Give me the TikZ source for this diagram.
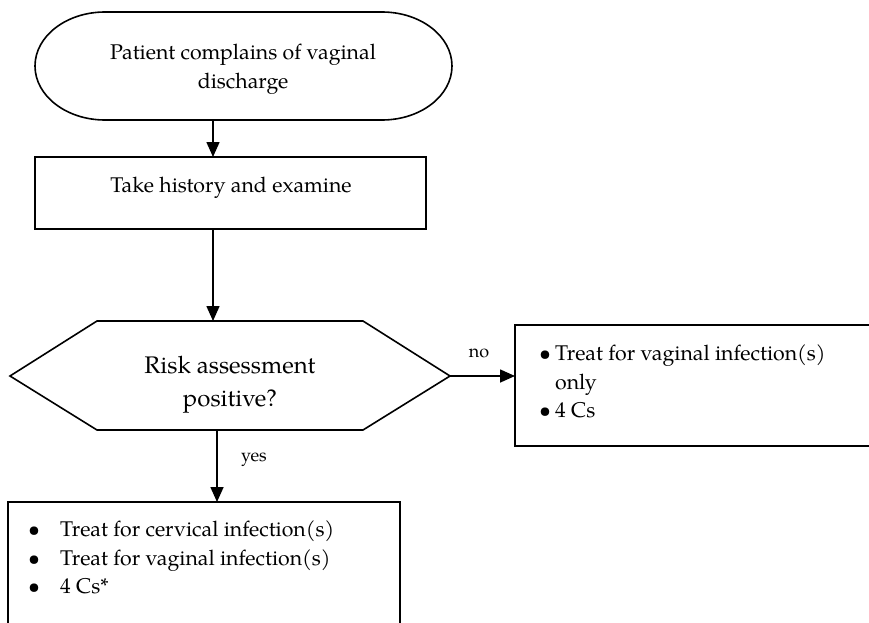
\documentclass[tikz,border=0pt]{standalone}
\usepackage{fontspec}
\setmainfont{TeX Gyre Pagella}
\usetikzlibrary{arrows.meta}
\begin{document}
\begin{tikzpicture}[x=1pt,y=1pt,
  outline/.style={draw=black,line width=1.6pt},
  flow/.style={draw=black,line width=1.6pt,-{Triangle[length=15pt,width=13pt]}},
  txt/.style={font=\fontsize{21.3}{29}\selectfont,inner sep=0pt},
  bigtxt/.style={font=\fontsize{24}{33}\selectfont,inner sep=0pt,align=center},
  lbl/.style={font=\fontsize{18}{20}\selectfont,inner sep=0pt}]
\useasboundingbox (0,0) rectangle (869,-623);
\begin{scope}
\clip (0,0) rectangle (869,-623);

% start terminal
\draw[outline] (105,-12) -- (382,-12)
  arc[start angle=90,end angle=-90,x radius=70,y radius=54]
  -- (105,-120)
  arc[start angle=270,end angle=90,x radius=70,y radius=54] -- cycle;
\node[txt,align=center] (start) at (243,-69) {Patient complains of vaginal\\discharge};
\coordinate (startout) at (213,-120);

% history box
\draw[outline] (35,-157) rectangle (426,-229);
\node[txt,anchor=base] (history) at (231,-192) {Take history and examine};
\coordinate (histin) at (213,-157);
\coordinate (histout) at (213,-229);

% decision hexagon
\draw[outline] (10,-376) -- (97,-321) -- (363,-321) -- (450,-376)
  -- (363,-430) -- (97,-430) -- cycle;
\node[bigtxt] (risk) at (230,-385) {Risk assessment\\positive?};
\coordinate (riskin) at (213,-321);
\coordinate (riskright) at (450,-376);
\coordinate (riskdown) at (217,-430);

% "no" outcome box (runs off the right edge)
\draw[outline] (880,-325) -- (515,-325) -- (515,-446) -- (880,-446);
\coordinate (noin) at (515,-376);
\node[txt,anchor=base west] (nob1) at (539,-360) {\textbullet};
\node[txt,anchor=base west,align=left] (notreat) at (555,-389) {Treat for vaginal infection(s)\\only};
\node[txt,anchor=base west] (nob2) at (539,-417) {\textbullet};
\node[txt,anchor=base west] (nocs) at (555,-417) {4 Cs};

% "yes" outcome box (runs off the bottom edge)
\draw[outline] (8,-640) -- (8,-502) -- (400,-502) -- (400,-640);
\coordinate (yesin) at (217,-502);
\node[txt,anchor=base west] (yb1) at (28,-536) {\textbullet};
\node[txt,anchor=base west] (ytreat1) at (60,-536) {Treat for cervical infection(s)};
\node[txt,anchor=base west] (yb2) at (28,-565) {\textbullet};
\node[txt,anchor=base west] (ytreat2) at (60,-565) {Treat for vaginal infection(s)};
\node[txt,anchor=base west] (yb3) at (28,-593) {\textbullet};
\node[txt,anchor=base west] (ycs) at (60,-593) {4 Cs*};

% connectors
\draw[flow] (startout) -- (histin);
\draw[flow] (histout) -- (riskin);
\draw[flow] (riskright) -- (noin);
\draw[flow] (riskdown) -- (yesin);
\node[lbl] (nolbl) at (479,-353) {no};
\node[lbl] (yeslbl) at (254,-460) {yes};
\end{scope}
\end{tikzpicture}
\end{document}
